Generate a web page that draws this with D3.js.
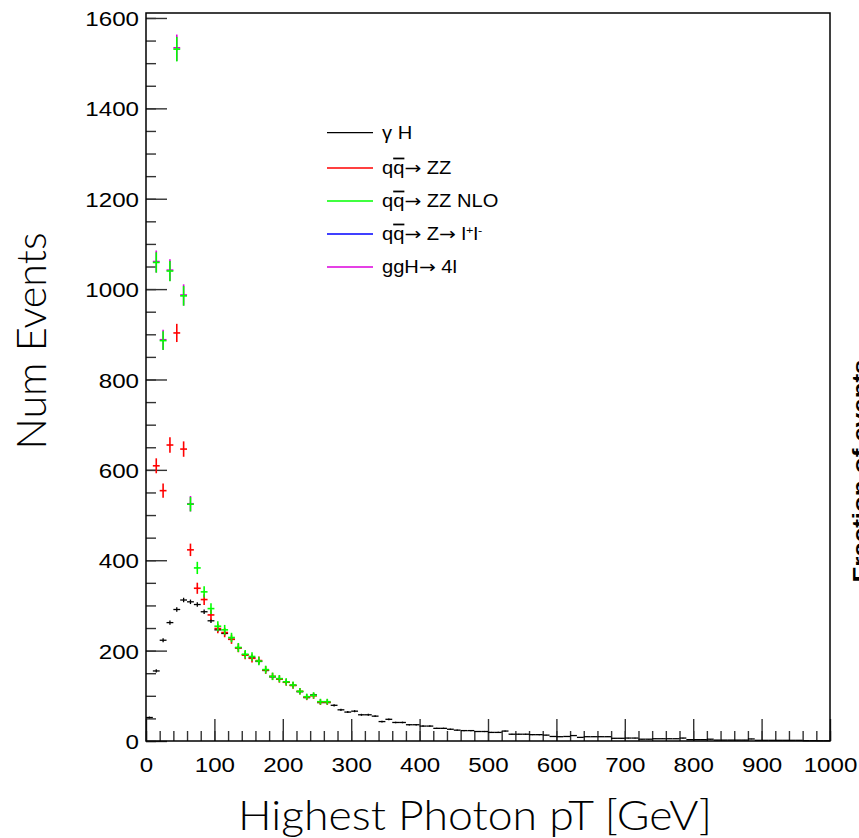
<!DOCTYPE html>
<html>
<head>
<meta charset="utf-8">
<script src="https://cdn.jsdelivr.net/npm/d3@7"></script>
<style>
  html, body { margin: 0; padding: 0; background: #fff; }
  svg { display: block; }
</style>
</head>
<body>
<svg id="chart" width="859" height="838"></svg>
<script>
// Histogram binning: 10 GeV bins from 0 to 1000 GeV
const binWidth = 10;
const xMin = 0, xMax = 1000;

// γH signal: event counts per bin (all 100 bins)
const gammaH = [
  52, 155, 223, 262, 291, 312, 308, 302, 286, 266,
  246, 238, 225, 206, 191, 184, 176, 156, 142, 137,
  130, 123, 109, 96, 102, 85, 85, 79, 69, 64,
  66, 58, 58, 55, 43, 48, 41, 41, 36, 36,
  33, 33, 28, 28, 26, 24, 23, 23, 21, 21,
  19, 19, 22, 15, 15, 15, 14, 14, 13, 10,
  9.5, 10, 12, 8, 9.5, 9.5, 9.5, 9.5, 6, 6,
  6.5, 6.5, 4, 4, 5, 5, 5, 5, 6.5, 3,
  3, 3, 4, 2, 2, 2, 2, 2, 4.5, 1.5,
  1.5, 1.5, 1.5, 1.5, 1.5, 1.5, 0.7, 0.7, 0.5, 0.5
];

// qq̄ → ZZ (LO), first 27 bins
const qqZZ = [
  null, 609, 554, 655, 903, 646, 423, 338, 313, 279,
  249, 240, 225, 206, 190, 183, 178, 157, 143, 137,
  130, 123, 110, 97, 100, 86, 86
];

// qq̄ → ZZ (NLO), first 27 bins
const qqZZNLO = [
  null, 1059, 886, 1040, 1531, 985, 524, 383, 330, 293,
  254, 246, 229, 207, 192, 187, 177, 158, 143, 138,
  131, 124, 110, 98, 101, 87, 87
];

// qq̄ → Z → l+l- : no entries in range
const qqZll = [];

// ggH → 4l, first 7 bins
const ggH4l = [null, 1061, 888, 1042, 1534, 987, 525];

// Per-event weights used for the statistical error bars (σ = sqrt(w·N))
const weights = { gammaH: 0.08, qqZZ: 0.45, qqZZNLO: 0.48, qqZll: 0.48, ggH4l: 0.56 };

// Axis ticks
const xMajorTicks = d3.range(0, 1001, 100);
const xMinorTicks = d3.range(0, 1001, 20);
const yMajorTicks = [0, 200, 400, 600, 800, 1000, 1200, 1400, 1600];
const yMinorTicks = d3.range(0, 1601, 50);

const legendLabels = ["γ H", "qq→ ZZ", "qq→ ZZ NLO", "qq→ Z→ ll", "ggH→ 4l"];

const series = [
  { key: "gammaH",  label: legendLabels[0], color: "#000000", values: gammaH },
  { key: "qqZZ",    label: legendLabels[1], color: "#ff0000", values: qqZZ },
  { key: "qqZZNLO", label: legendLabels[2], color: "#00ff00", values: qqZZNLO },
  { key: "qqZll",   label: legendLabels[3], color: "#0000ff", values: qqZll },
  { key: "ggH4l",   label: legendLabels[4], color: "#dd00dd", values: ggH4l }
];

// Frame geometry
const frame = { left: 146, right: 830, top: 13, bottom: 741 };
const svg = d3.select("#chart");

const x = d3.scaleLinear().domain([xMin, xMax]).range([frame.left, frame.right]);
const y = d3.scaleLinear().domain([0, 1611]).range([frame.bottom, frame.top]);

const labelFont = "'Liberation Sans', Arial, Helvetica, sans-serif";
const arrowFont = "'DejaVu Sans', sans-serif";
const stretch = 1.15;

// ---- axes (ticks point into the frame) ----
const axX = svg.append("g").attr("transform", `translate(0,${frame.bottom})`);
axX.append("g").call(d3.axisBottom(x).tickValues(xMinorTicks).tickSizeInner(-10).tickSizeOuter(0).tickFormat(""));
const axXMaj = axX.append("g").call(d3.axisBottom(x).tickValues(xMajorTicks).tickSizeInner(-22).tickSizeOuter(0).tickFormat(d3.format("d")));
axX.selectAll(".domain").remove();
axX.selectAll(".tick line").attr("stroke", "#333").attr("stroke-width", 1.4);
axXMaj.selectAll(".tick text")
  .attr("y", 30.7).attr("dy", 0)
  .attr("transform", `scale(${stretch},1)`)
  .style("font-family", labelFont).style("font-size", "21px").attr("fill", "#000");

const axY = svg.append("g").attr("transform", `translate(${frame.left},0)`);
axY.append("g").call(d3.axisLeft(y).tickValues(yMinorTicks).tickSizeInner(-10).tickSizeOuter(0).tickFormat(""));
const axYMaj = axY.append("g").call(d3.axisLeft(y).tickValues(yMajorTicks).tickSizeInner(-21).tickSizeOuter(0).tickFormat(d3.format("d")));
axY.selectAll(".domain").remove();
axY.selectAll(".tick line").attr("stroke", "#333").attr("stroke-width", 1.4);
axYMaj.selectAll(".tick text")
  .attr("x", -7 / stretch).attr("dy", "0.36em")
  .attr("transform", `scale(${stretch},1)`)
  .style("font-family", labelFont).style("font-size", "21px").attr("fill", "#000");

// Frame
svg.append("rect")
  .attr("x", frame.left).attr("y", frame.top)
  .attr("width", frame.right - frame.left).attr("height", frame.bottom - frame.top)
  .attr("fill", "none").attr("stroke", "#000").attr("stroke-width", 1.5);

// ---- data: error crosses, bin width horizontally, sqrt(w·N) vertically ----
const drawOrder = ["gammaH", "qqZZ", "ggH4l", "qqZll", "qqZZNLO"];
const plot = svg.append("g");
drawOrder.forEach(key => {
  const s = series.find(d => d.key === key);
  const w = weights[key];
  const pts = s.values
    .map((v, i) => ({ lo: xMin + i * binWidth, v }))
    .filter(d => d.v != null);
  const g = plot.append("g").attr("stroke", s.color)
    .attr("stroke-width", key === "gammaH" ? 1.3 : 1.6);
  g.selectAll("line.h").data(pts).join("line").attr("class", "h")
    .attr("x1", d => x(d.lo)).attr("x2", d => x(d.lo + binWidth))
    .attr("y1", d => y(d.v)).attr("y2", d => y(d.v));
  g.selectAll("line.v").data(pts).join("line").attr("class", "v")
    .attr("x1", d => x(d.lo + binWidth / 2)).attr("x2", d => x(d.lo + binWidth / 2))
    .attr("y1", d => y(d.v + Math.sqrt(w * d.v))).attr("y2", d => y(Math.max(0, d.v - Math.sqrt(w * d.v))));
});

// ---- legend ----
const legend = svg.append("g");
const legendY = [132.7, 168, 201, 234, 267];
function arrow(t) {
  t.append("tspan").style("font-family", arrowFont).text("→");
}
series.forEach((s, i) => {
  const row = legend.append("g");
  row.append("line")
    .attr("x1", 327).attr("x2", 373).attr("y1", legendY[i]).attr("y2", legendY[i])
    .attr("stroke", s.color).attr("stroke-width", 1.3);
  const t = row.append("text")
    .attr("transform", `translate(382,${legendY[i]}) scale(${stretch},1)`)
    .attr("dy", "0.36em")
    .style("font-family", labelFont).style("font-size", "17.5px").attr("fill", "#000");
  if (i === 0) {
    t.text(s.label);
  } else if (i === 4) {
    t.append("tspan").text("ggH");
    arrow(t);
    t.append("tspan").text(" 4l");
  } else {
    // quark and anti-quark (barred)
    t.append("tspan").text("q");
    t.append("tspan").style("text-decoration", "overline").text("q");
    arrow(t);
    if (i === 1) t.append("tspan").text(" ZZ");
    if (i === 2) t.append("tspan").text(" ZZ NLO");
    if (i === 3) {
      t.append("tspan").text(" Z");
      arrow(t);
      t.append("tspan").text(" l");
      t.append("tspan").attr("baseline-shift", "super").style("font-size", "11px").text("+");
      t.append("tspan").text("l");
      t.append("tspan").attr("baseline-shift", "super").style("font-size", "11px").text("-");
    }
  }
});

// ---- axis titles ----
const titleFont = "Lato, 'Open Sans', sans-serif";
svg.append("text")
  .attr("x", 475).attr("y", 830)
  .attr("text-anchor", "middle")
  .attr("textLength", 474).attr("lengthAdjust", "spacingAndGlyphs")
  .style("font-family", titleFont).style("font-weight", 300).style("font-size", "42px")
  .attr("fill", "#000")
  .text("Highest Photon pT [GeV]");

svg.append("text")
  .attr("transform", "translate(46,341) rotate(-90)")
  .attr("text-anchor", "middle")
  .attr("textLength", 217).attr("lengthAdjust", "spacingAndGlyphs")
  .style("font-family", titleFont).style("font-weight", 300).style("font-size", "42px")
  .attr("fill", "#000")
  .text("Num Events");

// Neighbouring panel's axis title, clipped at the page edge
svg.append("text")
  .attr("transform", "translate(868,471) rotate(-90)")
  .attr("text-anchor", "middle")
  .attr("textLength", 223).attr("lengthAdjust", "spacingAndGlyphs")
  .style("font-family", labelFont).style("font-size", "22px").style("font-weight", "bold")
  .attr("fill", "#000")
  .text("Fraction of events");
</script>
</body>
</html>
